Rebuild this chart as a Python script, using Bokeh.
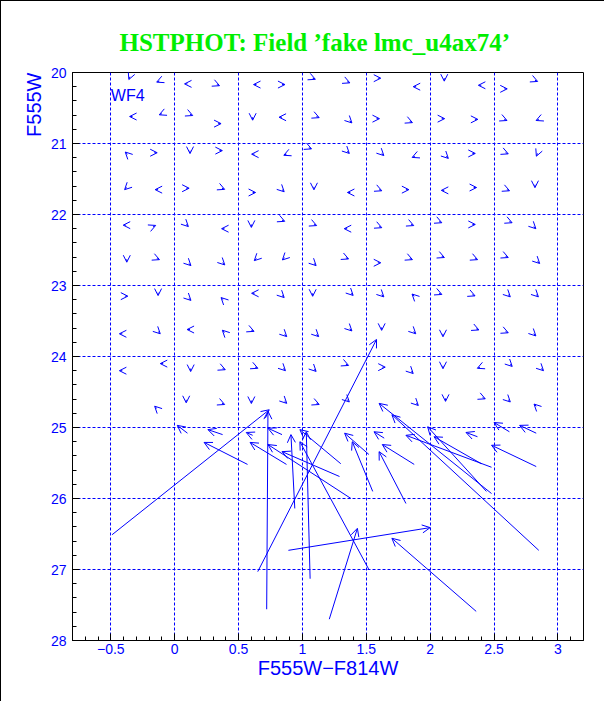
import numpy as np
from bokeh.plotting import figure
from bokeh.models import (Arrow, OpenHead, ColumnDataSource, Range1d, FixedTicker,
                          Title, Label, CustomJSTickFormatter)
from bokeh.embed import file_html
from bokeh.resources import INLINE

title_text = "HSTPHOT: Field \u2019fake lmc_u4ax74\u2019"
chip_label = "WF4"
x_label = "F555W\u2212F814W"
y_label = "F555W"

x_tick_values = [-0.5, 0, 0.5, 1, 1.5, 2, 2.5, 3]
x_tick_labels = ["\u22120.5", "0", "0.5", "1", "1.5", "2", "2.5", "3"]
y_tick_values = [20, 21, 22, 23, 24, 25, 26, 27, 28]
y_tick_labels = ["20", "21", "22", "23", "24", "25", "26", "27", "28"]

# well recovered fake stars: input colour / magnitude
star_x = [
    -0.35, -0.12, 0.10, 0.33, 0.64, 0.84, 1.08, 1.35, 1.59, 1.89, 2.11, 2.40, 2.58, 2.82,
    -0.33, -0.10, 0.12, 0.34, 0.61, 0.84, 1.11, 1.37, 1.58, 1.84, 2.09, 2.35, 2.58, 2.85,
    -0.37, -0.16, 0.12, 0.35, 0.625, 0.875, 1.05, 1.35, 1.62, 1.88, 2.125, 2.33, 2.59, 2.84,
    -0.375, -0.13, 0.09, 0.37, 0.61, 0.84, 1.09, 1.375, 1.60, 1.81, 2.11, 2.34, 2.60, 2.82,
    -0.38, -0.17, 0.09, 0.39, 0.60, 0.84, 1.09, 1.35, 1.60, 1.85, 2.07, 2.33, 2.62, 2.81,
    -0.375, -0.14, 0.11, 0.375, 0.64, 0.86, 1.09, 1.34, 1.59, 1.84, 2.09, 2.35, 2.59, 2.84,
    -0.39, -0.13, 0.11, 0.38, 0.625, 0.84, 1.08, 1.38, 1.62, 1.875, 2.07, 2.33, 2.61, 2.83,
    -0.41, -0.13, 0.12, 0.39, 0.60, 0.86, 1.11, 1.37, 1.62, 1.87, 2.10, 2.36, 2.59, 2.81,
    -0.41, -0.09, 0.125, 0.375, 0.63, 0.85, 1.09, 1.34, 1.625, 1.85, 2.10, 2.39, 2.625, 2.87,
    -0.14, 0.09, 0.37, 0.60, 0.86, 1.11, 1.35, 1.89, 2.12, 2.41, 2.61, 2.83,
]
star_y = [
    20.06, 20.12, 20.16, 20.17, 20.17, 20.17, 20.08, 20.13, 20.08, 20.20, 20.08, 20.18, 20.23, 20.11,
    20.62, 20.58, 20.59, 20.72, 20.63, 20.63, 20.62, 20.68, 20.65, 20.69, 20.65, 20.66, 20.66, 20.66,
    21.15, 21.13, 21.10, 21.10, 21.15, 21.15, 21.06, 21.11, 21.14, 21.18, 21.18, 21.14, 21.13, 21.14,
    21.62, 21.65, 21.63, 21.63, 21.69, 21.65, 21.61, 21.69, 21.65, 21.65, 21.66, 21.62, 21.65, 21.58,
    22.15, 22.17, 22.14, 22.20, 22.14, 22.08, 22.14, 22.20, 22.17, 22.14, 22.10, 22.14, 22.10, 22.17,
    22.63, 22.62, 22.69, 22.68, 22.62, 22.61, 22.69, 22.61, 22.68, 22.62, 22.59, 22.62, 22.59, 22.66,
    23.15, 23.10, 23.18, 23.20, 23.11, 23.14, 23.11, 23.11, 23.13, 23.15, 23.11, 23.13, 23.13, 23.13,
    23.68, 23.65, 23.62, 23.66, 23.63, 23.69, 23.69, 23.61, 23.59, 23.65, 23.68, 23.61, 23.65, 23.68,
    24.20, 24.10, 24.17, 24.17, 24.15, 24.17, 24.18, 24.11, 24.15, 24.21, 24.13, 24.15, 24.11, 24.17,
    24.73, 24.61, 24.66, 24.62, 24.63, 24.66, 24.61, 24.66, 24.59, 24.58, 24.61, 24.70,
]
# recovered minus input (small shifts)
star_dx = [
    -0.009, -0.021, -0.023, 0.021, -0.023, 0.023, 0.021, 0.021, 0.023, -0.023, 0, -0.023, 0.023, 0.021,
    -0.023, -0.021, 0.021, 0.023, 0, -0.023, 0.021, 0.017, 0.023, 0.021, 0.023, 0.023, 0.021, -0.021,
    -0.017, 0.023, 0, 0.023, -0.023, -0.021, 0.021, 0.017, 0.017, -0.021, 0.017, 0.023, 0.021, -0.009,
    -0.017, -0.023, 0.023, 0.021, 0.023, 0.017, 0, -0.023, 0.021, 0.023, -0.023, 0.023, 0.021, 0,
    -0.023, 0.021, 0.017, -0.023, 0, 0.021, 0.021, -0.023, 0.021, 0.021, 0.021, 0.023, 0.021, 0.017,
    0, 0.021, 0.017, 0.017, -0.017, -0.017, 0.017, 0.021, 0.023, 0.021, 0.021, 0.021, 0.021, 0.017,
    0.023, 0, 0.017, -0.017, -0.023, 0.017, 0, 0.017, 0.017, -0.017, 0.021, 0.021, 0.017, 0.017,
    -0.023, 0.017, -0.023, -0.017, 0.021, 0.017, 0.017, 0.017, 0, 0.017, 0, 0.021, 0.021, 0.017,
    -0.023, -0.023, 0, 0.021, 0.021, 0.017, 0.017, 0.021, 0.023, 0.017, 0, -0.021, 0.017, 0.017,
    -0.017, 0, 0.021, 0, 0.017, 0.021, 0.017, 0.017, 0, 0.021, 0.017, -0.017,
]
star_dy = [
    0.039, 0.016, 0, 0.016, 0, 0, 0.016, 0.016, 0, 0, 0.042, 0, 0, 0.016,
    0, 0.016, 0.016, 0, 0.042, 0, 0.016, 0.030, 0, 0.016, 0, 0, 0.016, 0.016,
    -0.030, 0, 0.042, 0, 0, 0.016, 0.016, 0.030, 0.030, 0.016, 0.030, 0, 0.016, 0.039,
    0.030, 0, 0, 0.016, 0, 0.030, 0.042, 0, 0.016, 0, 0, 0, 0.016, 0.042,
    0, -0.016, 0.030, 0, 0.042, 0.016, 0.016, 0, 0.016, 0.016, 0.016, 0, 0.016, 0.030,
    0.042, 0.016, 0.030, 0.030, 0.030, 0.030, 0.030, 0.016, 0, 0.016, 0.016, 0.016, 0.016, 0.030,
    0, 0.042, 0.030, -0.030, 0, 0.030, 0.042, 0.030, 0.030, -0.030, 0.016, 0.016, 0.030, 0.030,
    0, 0.030, 0, -0.030, 0.016, 0.030, 0.030, 0.030, 0.042, 0.030, 0.042, 0.016, 0.016, 0.030,
    0, 0, 0.042, 0.016, 0.016, 0.030, 0.030, 0.016, 0, 0.030, 0.042, 0.016, 0.030, 0.030,
    -0.030, 0.042, 0.016, 0.042, 0.030, 0.016, 0.030, 0.030, 0.042, 0.016, 0.030, -0.030,
]

# badly recovered (faint / blended) fake stars: input -> recovered
blend_x_in = [-0.49, 0.72, 0.65, 0.10, 0.375, 0.57, 0.61, 0.875, 0.84, 1.38, 1.29,
              0.94, 1.06, 1.52, 1.30, 2.48, 2.85, 1.64, 2.40, 2.48, 2.44, 1.875,
              1.81, 1.52, 2.37, 2.62, 2.83, 2.83, 0.89, 1.21, 2.36, 1.55]
blend_y_in = [26.51, 27.56, 27.03, 25.08, 25.10, 25.52, 25.11, 25.52, 25.10, 26.00, 25.69,
              26.14, 27.13, 27.00, 25.51, 25.93, 26.73, 25.15, 25.51, 25.56, 25.90, 25.52,
              26.07, 25.38, 25.13, 25.06, 25.08, 25.55, 26.73, 27.70, 27.59, 25.90]
blend_x_out = [0.74, 0.73, 1.58, 0.02, 0.26, 0.23, 0.56, 0.59, 0.73, 0.73, 0.84,
               0.91, 1.03, 0.98, 0.98, 1.60, 1.70, 1.56, 2.03, 1.81, 1.98, 1.625,
               1.60, 1.33, 2.28, 2.50, 2.70, 2.48, 2.00, 1.43, 1.70, 1.39]
blend_y_out = [24.75, 24.77, 23.76, 24.97, 25.03, 25.21, 25.07, 25.21, 25.01, 25.24, 25.34,
               25.10, 25.06, 25.20, 25.03, 24.66, 24.82, 25.06, 25.13, 25.11, 24.99, 25.24,
               25.34, 25.08, 25.07, 24.93, 24.97, 25.25, 26.41, 26.42, 26.56, 25.20]

BLUE = "#0000ff"
FONT = "Liberation Sans"

p = figure(width=604, height=701, x_range=Range1d(-0.8, 3.2), y_range=Range1d(28, 20),
           output_backend="svg", toolbar_location=None,
           min_border_left=71, min_border_right=22, min_border_top=71, min_border_bottom=62)
p.background_fill_color = "white"
p.border_fill_color = "white"
p.outline_line_color = "black"
p.outline_line_alpha = 1.0
p.outline_line_width = 1
p.styles = {"border-left": "1px solid black", "border-top": "1px solid black",
            "box-sizing": "border-box"}

p.title.text = title_text
p.title.text_font = "Liberation Serif"
p.title.text_font_size = "25px"
p.title.text_font_style = "bold"
p.title.text_color = "#00ee00"
p.title.align = "left"
p.title.offset = 47
p.title.vertical_align = "top"
p.title.standoff = 30

x_minor = [round(v, 2) for v in np.arange(-0.8, 3.201, 0.1)]
y_minor = [round(v, 2) for v in np.arange(20, 28.001, 0.2)]

fmt_code = """
for (let i = 0; i < vals.length; i++) {
  if (Math.abs(vals[i] - tick) < 1e-6) return labs[i];
}
return "";
"""
p.xaxis.ticker = FixedTicker(ticks=x_tick_values, minor_ticks=x_minor)
p.xaxis.formatter = CustomJSTickFormatter(args=dict(vals=x_tick_values, labs=x_tick_labels), code=fmt_code)
p.yaxis.ticker = FixedTicker(ticks=y_tick_values, minor_ticks=y_minor)
p.yaxis.formatter = CustomJSTickFormatter(args=dict(vals=y_tick_values, labs=y_tick_labels), code=fmt_code)

for ax in (p.xaxis, p.yaxis):
    ax.axis_line_color = "black"
    ax.major_tick_line_color = "black"
    ax.minor_tick_line_color = "black"
    ax.major_tick_in = 7
    ax.major_tick_out = 0
    ax.minor_tick_in = 4
    ax.minor_tick_out = 0
    ax.major_label_text_color = BLUE
    ax.major_label_text_font = FONT
    ax.major_label_text_font_size = "14px"

p.xaxis.major_label_standoff = 3
p.yaxis.major_label_standoff = 6
p.xaxis.axis_label = x_label
p.xaxis.axis_label_text_font = FONT
p.xaxis.axis_label_text_font_size = "20px"
p.xaxis.axis_label_text_font_style = "normal"
p.xaxis.axis_label_text_color = BLUE
p.xaxis.axis_label_standoff = 0

for g in (p.xgrid, p.ygrid):
    g.grid_line_color = BLUE
    g.grid_line_dash = "3 2"
    g.grid_line_width = 1

ylab = Title(text=y_label, align="right", text_font=FONT, text_font_size="20px",
             text_font_style="normal", text_color=BLUE, standoff=5)
p.add_layout(ylab, "left")

p.add_layout(Label(x=-0.5, y=20.32, text=chip_label, text_font=FONT, text_font_size="16px",
                   text_color=BLUE, text_baseline="alphabetic", text_align="left"))

sx = np.array(star_x)
sy = np.array(star_y)
small_src = ColumnDataSource(dict(x0=sx, y0=sy, x1=sx + np.array(star_dx), y1=sy + np.array(star_dy)))
p.add_layout(Arrow(source=small_src, x_start="x0", y_start="y0", x_end="x1", y_end="y1",
                   line_color=BLUE, line_width=1,
                   end=OpenHead(size=7, line_color=BLUE, line_width=1)))

big_src = ColumnDataSource(dict(x0=blend_x_in, y0=blend_y_in, x1=blend_x_out, y1=blend_y_out))
p.add_layout(Arrow(source=big_src, x_start="x0", y_start="y0", x_end="x1", y_end="y1",
                   line_color=BLUE, line_width=1,
                   end=OpenHead(size=8, line_color=BLUE, line_width=1)))

open("out.html", "w").write(file_html(p, INLINE))
